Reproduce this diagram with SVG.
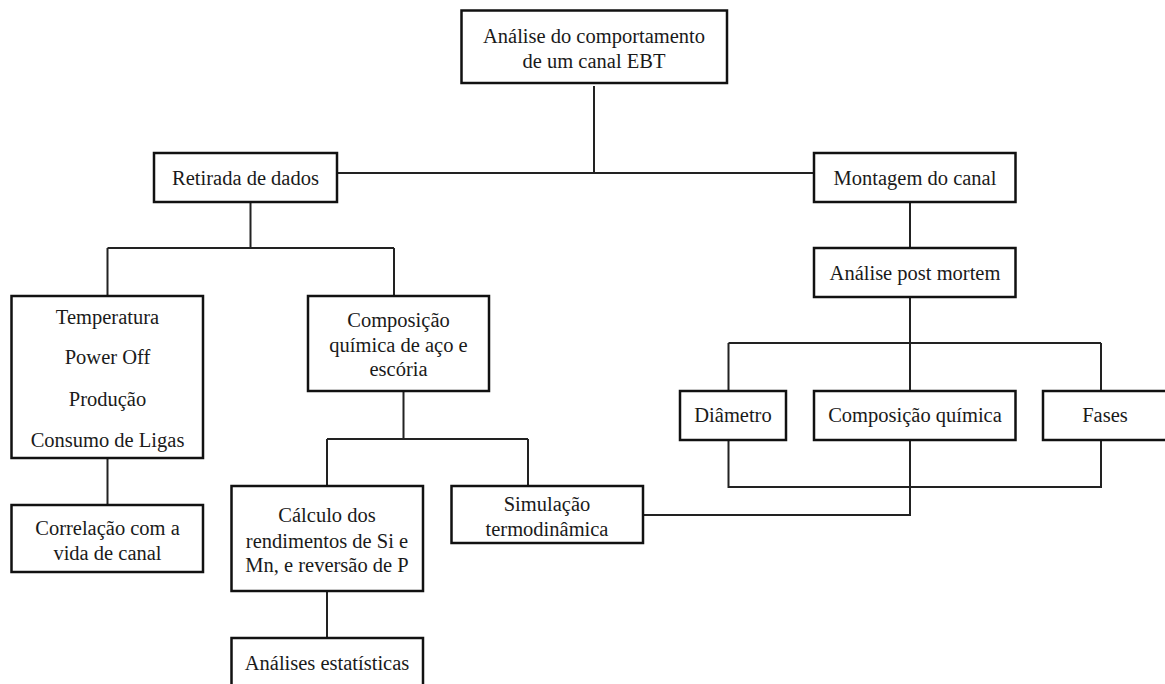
<svg xmlns="http://www.w3.org/2000/svg" width="1165" height="684" viewBox="0 0 1165 684">
<style>
.box{fill:#fff;stroke:#111;stroke-width:2.5}
.ln{fill:none;stroke:#222;stroke-width:2}
text{font-family:"Liberation Serif","Times New Roman",serif;font-size:20.5px;fill:#1a1a1a;text-anchor:middle}
</style>
<rect width="1165" height="684" fill="#fff"/>
<g id="connectors">
<path class="ln" d="M594,86 V173 M337,173 H814"/>
<path class="ln" d="M250.5,202 V248 M107.5,248 H394 M107.5,248 V296 M394,248 V296"/>
<path class="ln" d="M107.5,458 V505"/>
<path class="ln" d="M403.5,391 V439 M327,439 H528 M327,439 V486 M528,439 V486"/>
<path class="ln" d="M327,591 V638"/>
<path class="ln" d="M910,202 V248"/>
<path class="ln" d="M910,297 V391 M728.5,343 H1101 M728.5,343 V391 M1101,343 V391"/>
<path class="ln" d="M728.5,440 V487 H1101 V440"/>
<path class="ln" d="M910,440 V515 H643"/>
</g>
<g id="n_top"><rect class="box" x="461.5" y="10.5" width="265.5" height="72.5"/><text x="594" y="43">Análise do comportamento</text><text x="594" y="68">de um canal EBT</text></g>
<g id="n_retirada"><rect class="box" x="154" y="153" width="183" height="49"/><text x="245.5" y="185">Retirada de dados</text></g>
<g id="n_montagem"><rect class="box" x="814" y="153" width="201.5" height="49"/><text x="915" y="185">Montagem do canal</text></g>
<g id="n_postmortem"><rect class="box" x="814" y="248" width="201.5" height="49"/><text x="915" y="280">Análise post mortem</text></g>
<g id="n_temperatura"><rect class="box" x="11.5" y="296" width="191.5" height="162"/><text x="107.5" y="324">Temperatura</text><text x="107.5" y="364">Power Off</text><text x="107.5" y="406">Produção</text><text x="107.5" y="447">Consumo de Ligas</text></g>
<g id="n_correlacao"><rect class="box" x="11.5" y="505" width="191.5" height="67"/><text x="107.5" y="535">Correlação com a</text><text x="107.5" y="560">vida de canal</text></g>
<g id="n_composicao_aco"><rect class="box" x="308" y="296" width="181" height="95"/><text x="398.5" y="327">Composição</text><text x="398.5" y="352">química de aço e</text><text x="398.5" y="376">escória</text></g>
<g id="n_calculo"><rect class="box" x="231.5" y="486" width="191.5" height="105"/><text x="327" y="522">Cálculo dos</text><text x="327" y="548">rendimentos de Si e</text><text x="327" y="572">Mn, e reversão de P</text></g>
<g id="n_simulacao"><rect class="box" x="451.5" y="486" width="191.5" height="57"/><text x="547" y="511">Simulação</text><text x="547" y="536">termodinâmica</text></g>
<g id="n_estatisticas"><rect class="box" x="231.5" y="638" width="191.5" height="60"/><text x="327" y="670">Análises estatísticas</text></g>
<g id="n_diametro"><rect class="box" x="680" y="391" width="106" height="49"/><text x="733" y="422">Diâmetro</text></g>
<g id="n_composicao_quimica"><rect class="box" x="814" y="391" width="201.5" height="49"/><text x="915" y="422">Composição química</text></g>
<g id="n_fases"><rect class="box" x="1043" y="391" width="130" height="49"/><text x="1105" y="422">Fases</text></g>
</svg>
